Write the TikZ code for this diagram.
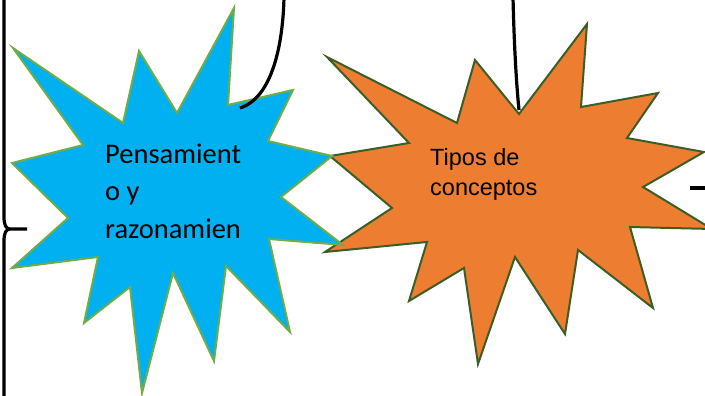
\documentclass[tikz,border=0pt]{standalone}
\usepackage{fontspec}
\newfontfamily\carlito{Carlito}
\newfontfamily\arialfont{Liberation Sans}
\usepackage{xcolor}
\usetikzlibrary{positioning}

\definecolor{starblue}{HTML}{00B0F0}
\definecolor{stargreen}{HTML}{70AD47}
\definecolor{starorange}{HTML}{ED7D31}
\definecolor{stardark}{HTML}{3B5E26}

\begin{document}
\begin{tikzpicture}[
			x=1pt, y=-1pt,
			bluestar/.style={fill=starblue, draw=stargreen, line width=2pt},
			orangestar/.style={fill=starorange, draw=stardark, line width=2pt},
			bluetext/.style={align=left, inner sep=0pt, font=\carlito\fontsize{28.5}{37.5}\selectfont},
			orangetext/.style={align=left, inner sep=0pt, font=\arialfont\fontsize{23.5}{30}\selectfont},
			link/.style={draw=black, line width=3.2pt}
			]
			\useasboundingbox (0,0) rectangle (705,396);
			\clip (0,0) rectangle (705,396);
			
			%==================== estrella naranja ====================
			\path[orangestar] (327,57) -- (457,123) -- (475,60) -- (519,114) -- (587,24) -- (581,107)
			-- (658,93) -- (627,138) -- (704,152) -- (643,187) -- (712,229) -- (630,227) -- (653,308)
			-- (578,250) -- (565,334) -- (515,257) -- (478,364) -- (464,268) -- (409,301) -- (427,242)
			-- (325,252) -- (392,208) -- (330,156) -- (409,143) -- cycle;
			\node[orangetext, anchor=base west] (tipos) at (430,195) {Tipos de\\conceptos};
			
			%==================== estrella azul ====================
			\path[bluestar] (13,48) -- (123,123) -- (139,51) -- (177,113) -- (234,8) -- (228,105)
			-- (293,90) -- (268,141) -- (332,156) -- (281,197) -- (343,245) -- (269,239) -- (290,332)
			-- (226,266) -- (214,361) -- (173,273) -- (142,393) -- (130,287) -- (84,323) -- (98,257)
			-- (12,268) -- (68,218) -- (12,163) -- (83,145) -- cycle;
			\node[bluetext, anchor=base west] (pensamiento) at (105,238) {Pensamient\\o y\\razonamien};
			
			%==================== lineas ====================
			\coordinate (bracetop) at (4,-3);
			\coordinate (bracetip) at (10,229);
			\coordinate (bracebot) at (4,399);
			\coordinate (bracetick) at (27,229);
			\draw[link] (bracetop) -- (4,217) .. controls (4,225) and (6,229) .. (bracetip) -- (bracetick);
			\draw[link] (bracetip) .. controls (6,229) and (4,233) .. (4,241) -- (bracebot);
			
			\coordinate (topleft) at (284,-3);
			\coordinate (blueend) at (240,108);
			\draw[link] (topleft) .. controls (283,45) and (272,98) .. (blueend);
			
			\coordinate (topright) at (513,-3);
			\coordinate (orangeend) at (519,110);
			\draw[link] (topright) .. controls (514,40) and (516,80) .. (orangeend);
			
			\coordinate (stubstart) at (690,188);
			\coordinate (stubend) at (708,188);
			\draw[link] (stubstart) -- (stubend);
			
		\end{tikzpicture}
\end{document}
